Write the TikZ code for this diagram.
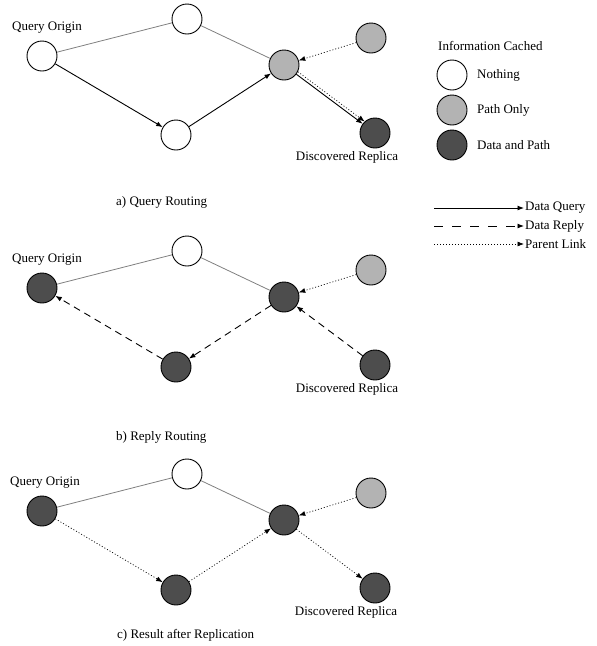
\documentclass[tikz,border=0pt]{standalone}
\usepackage{fontspec}
\setmainfont{Liberation Serif}
\usetikzlibrary{arrows.meta}
\definecolor{pathgray}{HTML}{B3B3B3}
\definecolor{datagray}{HTML}{4D4D4D}
\definecolor{linkgray}{HTML}{808080}
\begin{document}
\begin{tikzpicture}[x=1pt, y=-1pt, font=\fontsize{13}{15}\selectfont]

\tikzstyle{peer}=[circle, draw, line width=0.9pt, minimum size=30pt, inner sep=0pt]
\tikzstyle{nothing}=[peer, fill=white]
\tikzstyle{pathonly}=[peer, fill=pathgray]
\tikzstyle{datapath}=[peer, fill=datagray]
\tikzstyle{link}=[draw=linkgray, line width=0.8pt]
\tikzstyle{query}=[-{Latex[length=6.5pt,width=5pt]}, line width=0.9pt]
\tikzstyle{reply}=[query, dash pattern=on 7pt off 5pt]
\tikzstyle{parent}=[query, line width=0.7pt, dash pattern=on 1pt off 2pt]
\tikzstyle{txt}=[inner sep=1pt]

\useasboundingbox (0,0) rectangle (597,646);

% a) query routing
\node (Oa) [nothing]  at (42,56)   {};
\node (Ta) [nothing]  at (187,19)  {};
\node (Ba) [nothing]  at (176,135) {};
\node (Ma) [pathonly] at (284,65)  {};
\node (Ra) [pathonly] at (371,38)  {};
\node (Da) [datapath] at (375,133) {};

\node (QOa) [txt] at (47,28)  {Query Origin};
\node (DRa) [txt] at (347,157) {Discovered Replica};
\node (Ca) [txt, anchor=west] at (115,202) {a) Query Routing};

\draw [link] (Oa) -- (Ta);
\draw [link] (Ta) -- (Ma);
\draw [query] (Oa) -- (Ba);
\draw [query] (Ba) -- (Ma);
\draw [query] (Ma) -- (Da);
\draw [parent] (Ma.-26) -- (Da.132);
\draw [parent] (Ra) -- (Ma);

% b) reply routing
\node (Ob) [datapath] at (42,288)  {};
\node (Tb) [nothing]  at (187,251) {};
\node (Bb) [datapath] at (176,367) {};
\node (Mb) [datapath] at (284,297) {};
\node (Rb) [pathonly] at (371,270) {};
\node (Db) [datapath] at (375,365) {};

\node (QOb) [txt] at (47,260)  {Query Origin};
\node (DRb) [txt] at (347,389) {Discovered Replica};
\node (Cb) [txt, anchor=west] at (115,437) {b) Reply Routing};

\draw [link] (Ob) -- (Tb);
\draw [link] (Tb) -- (Mb);
\draw [reply] (Db) -- (Mb);
\draw [reply] (Mb) -- (Bb);
\draw [reply] (Bb) -- (Ob);
\draw [parent] (Rb) -- (Mb);

% c) result after replication
\node (Oc) [datapath] at (42,511)  {};
\node (Tc) [nothing]  at (187,474) {};
\node (Bc) [datapath] at (176,590) {};
\node (Mc) [datapath] at (284,520) {};
\node (Rc) [pathonly] at (371,493) {};
\node (Dc) [datapath] at (375,588) {};

\node (QOc) [txt] at (45,483)  {Query Origin};
\node (DRc) [txt] at (346,612) {Discovered Replica};
\node (Cc) [txt, anchor=west] at (116,635) {c) Result after Replication};

\draw [link] (Oc) -- (Tc);
\draw [link] (Tc) -- (Mc);
\draw [parent] (Oc) -- (Bc);
\draw [parent] (Bc) -- (Mc);
\draw [parent] (Mc) -- (Dc);
\draw [parent] (Rc) -- (Mc);

% legend
\node (Info) [txt, anchor=west] at (437,46) {Information Cached};
\node (Ln) [nothing]  at (452,75)  {};
\node (Lp) [pathonly] at (452,110) {};
\node (Ld) [datapath] at (452,145) {};
\node (LnT) [txt, anchor=west] at (476,75)  {Nothing};
\node (LpT) [txt, anchor=west] at (476,110) {Path Only};
\node (LdT) [txt, anchor=west] at (476,145) {Data and Path};

\coordinate (Sq) at (434,208);
\coordinate (Sr) at (434,226);
\coordinate (Sp) at (434,244);
\node (Lq) [txt, anchor=west] at (524,208) {Data Query};
\node (Lr) [txt, anchor=west] at (524,226) {Data Reply};
\node (Lp2) [txt, anchor=west] at (524,244) {Parent Link};
\draw [query] (Sq) -- (Lq);
\draw [reply, dash pattern=on 9pt off 9pt] (Sr) -- (Lr);
\draw [parent] (Sp) -- (Lp2);

\end{tikzpicture}
\end{document}
